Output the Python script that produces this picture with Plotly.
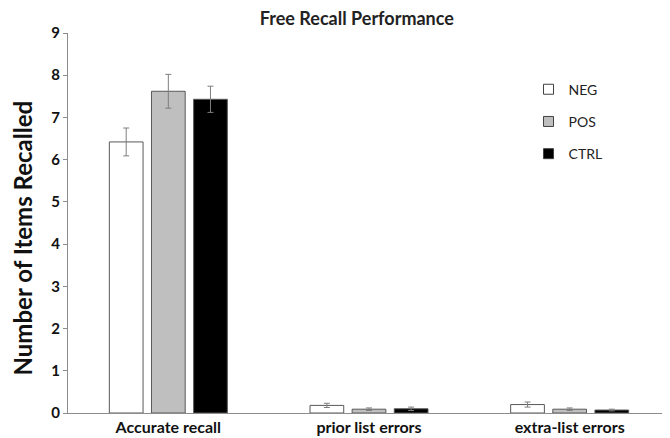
import plotly.graph_objects as go

categories = ["Accurate recall", "prior list errors", "extra-list errors"]
neg = [6.42, 0.18, 0.20]
pos = [7.62, 0.09, 0.09]
ctrl = [7.43, 0.10, 0.07]
neg_err = [0.33, 0.05, 0.06]
pos_err = [0.40, 0.03, 0.03]
ctrl_err = [0.31, 0.04, 0.02]
series = ["NEG", "POS", "CTRL"]
colors = ["#ffffff", "#bfbfbf", "#000000"]

FONT = "Lato"
fig = go.Figure()
for name, vals, errs, col in zip(series, [neg, pos, ctrl], [neg_err, pos_err, ctrl_err], colors):
    fig.add_trace(go.Bar(
        x=categories, y=vals, name=name, legendgroup=name, showlegend=False,
        marker=dict(color=col, line=dict(color="#595959", width=1)),
        error_y=dict(type="data", array=errs, color="#7f7f7f", thickness=1, width=3),
    ))
# legend entries with small square markers
for name, col in zip(series, colors):
    fig.add_trace(go.Scatter(
        x=[categories[0]], y=[None], name=name, legendgroup=name, mode="markers",
        marker=dict(symbol="square", size=10, color=col, line=dict(color="#404040", width=1)),
    ))

fig.update_layout(
    width=662, height=430,
    margin=dict(l=60, r=0, t=25, b=25),
    paper_bgcolor="white", plot_bgcolor="white",
    barmode="group", bargap=0.37, bargroupgap=0.2,
    title=dict(text="<b>Free Recall Performance</b>", x=0.527, xanchor="center", y=0.974, yanchor="middle",
               font=dict(family=FONT, size=18, color="#222")),
    font=dict(family=FONT, color="#111"),
    legend=dict(x=0.765, y=0.893, xanchor="left", yanchor="top", tracegroupgap=11,
                font=dict(family=FONT, size=14, color="#222"), itemwidth=30, bgcolor="rgba(0,0,0,0)"),
    showlegend=True,
    annotations=[dict(text="<b>Number of Items Recalled</b>", textangle=-90, xref="paper", yref="paper",
                      x=-0.076, y=0.46, xanchor="center", yanchor="middle", showarrow=False,
                      font=dict(family=FONT, size=24, color="#111"))],
)
fig.update_yaxes(range=[0, 9], dtick=1, showgrid=False, zeroline=False, automargin=False,
                 showline=True, linecolor="#8c8c8c", linewidth=1,
                 ticks="outside", ticklen=4, tickcolor="#8c8c8c",
                 tickfont=dict(family=FONT, size=15, color="#111", weight="bold"))
fig.update_xaxes(showgrid=False, showline=True, linecolor="#8c8c8c", linewidth=1, ticks="", automargin=False,
                 tickfont=dict(family=FONT, size=16, color="#111", weight="bold"))

fig.write_html("out.html")
